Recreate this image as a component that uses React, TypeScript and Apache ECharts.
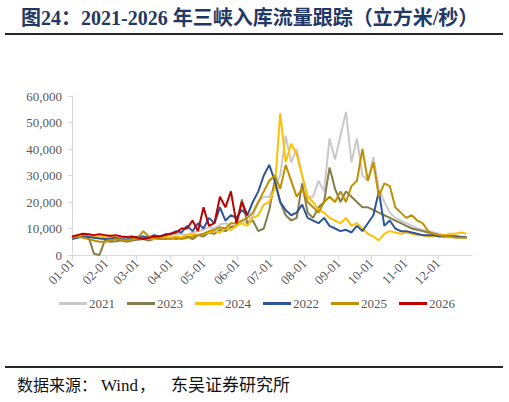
import React, { useEffect, useRef } from "react";
import * as echarts from "echarts";

// Day-of-year sampling step for every series (days 0, 5, 10, ...)
const STEP_DAYS = 5;

const MONTH_LABELS = ["01-01", "02-01", "03-01", "04-01", "05-01", "06-01", "07-01", "08-01", "09-01", "10-01", "11-01", "12-01"];
const MONTH_START_DAYS = [0, 31, 59, 90, 120, 151, 181, 212, 243, 273, 304, 334];
const Y_TICKS = [0, 10000, 20000, 30000, 40000, 50000, 60000];

const FLOW_2021 = [
  6800, 7200, 7500, 7000, 6800, 6500,
  6200, 6000, 6300, 6500, 6200, 6000,
  6300, 6500, 6800, 7000, 6800, 7200,
  7500, 7800, 8000, 7500, 8500, 9000,
  9500, 10500, 10000, 11500, 12000, 11000,
  11000, 13000, 12000, 15000, 20000, 22000,
  22000, 26000, 30000, 45000, 35000, 40000,
  30000, 22000, 22000, 28000, 24000, 44000,
  36000, 45000, 54000, 35000, 44000, 30000,
  28000, 37000, 25000, 20000, 16000, 14000,
  13000, 12000, 11000, 10000, 9500, 9000,
  8500, 8000, 7500, 7200, 7000, 7000, 6800,
];

const FLOW_2022 = [
  6000, 6500, 7000, 6800, 6500, 6200,
  6000, 6200, 6500, 6000, 5800, 6500,
  6800, 7000, 6500, 7500, 7000, 7800,
  8000, 9000, 8500, 11000, 9000, 12000,
  10000, 14000, 12000, 18000, 13000, 15000,
  14000, 17000, 15000, 20000, 24000, 30000,
  34000, 28000, 20000, 17000, 15000, 16000,
  19000, 14000, 13000, 12000, 14000, 11000,
  10000, 9000, 9500, 8500, 11000, 9000,
  12000, 15000, 24000, 11000, 13000, 10000,
  9000, 9000, 8500, 8000, 7500, 7500,
  7500, 7000, 7000, 7200, 7000, 6800, 6800,
];

const FLOW_2023 = [
  6500, 7000, 7500, 7000, 500, 0,
  5500, 5000, 5200, 5500, 5000, 5500,
  5800, 6000, 5500, 6000, 6200, 6500,
  6500, 6000, 6500, 7000, 6000, 7500,
  7000, 8500, 8000, 9500, 9000, 10500,
  11000, 21000, 12000, 13000, 9000, 10000,
  17000, 28000, 20000, 15000, 13000, 14000,
  27000, 16000, 14000, 18000, 20000, 33000,
  25000, 20000, 24000, 22000, 20000, 18000,
  18000, 17000, 16000, 15000, 14000, 13000,
  12000, 11000, 10000, 9500, 9000, 8500,
  8000, 7500, 7500, 7000, 7000, 6800, 6500,
];

const FLOW_2024 = [
  7000, 7500, 7200, 8000, 7000, 6500,
  7000, 7500, 6500, 6000, 5500, 6000,
  6500, 7000, 6500, 6000, 6500, 7000,
  6500, 7000, 6800, 7500, 8000, 7500,
  8000, 8500, 9000, 8500, 10000, 9500,
  11000, 12000, 11000, 14000, 15000, 19000,
  20000, 25000, 53500, 35000, 42000, 38000,
  30000, 22000, 20000, 17000, 16000, 14000,
  13000, 12000, 14000, 11000, 12000, 10000,
  8000, 7000, 5500, 8000, 9000, 8500,
  8000, 8500, 8000, 7500, 7500, 7000,
  7000, 7500, 7500, 8000, 8000, 8500, 8000,
];

const FLOW_2025 = [
  6500, 7000, 6500, 6000, 5500, 5000,
  5000, 5500, 6000, 5800, 5500, 6000,
  6500, 9000, 7000, 6500, 6000, 6000,
  6000, 6500, 6000, 6500, 7000, 7500,
  8000, 9000, 9500, 10500, 10000, 12000,
  12000, 13000, 14000, 16000, 20000, 24000,
  28000, 30000, 25000, 34000, 28000, 22000,
  25000, 20000, 18000, 16000, 20000, 22000,
  20000, 24000, 20000, 26000, 28000, 40000,
  28000, 35000, 22000, 27000, 26000, 18000,
  16000, 14000, 15000, 13000, 12000, 9000,
  8000, 7500, 7000, 7000, 6500, 6500, 6500,
];

const FLOW_2026 = [
  7000, 7500, 8000, 7800, 7500, 7800,
  7500, 7200, 7500, 7000, 6800, 7000,
  6500, 6000, 6500, 7000, 7000, 7500,
  8000, 8500, 10000, 10000, 13000, 9000,
  18000, 11000, 12000, 22000, 18000, 24000,
  12000, 20000, 15000,
];

const SERIES_DEFS = [
  { name: "2021", color: "#C9C9C9", values: FLOW_2021 },
  { name: "2023", color: "#857D4B", values: FLOW_2023 },
  { name: "2024", color: "#FFC000", values: FLOW_2024 },
  { name: "2022", color: "#2F5597", values: FLOW_2022 },
  { name: "2025", color: "#BF9000", values: FLOW_2025 },
  { name: "2026", color: "#C00000", values: FLOW_2026 },
];

const SERIF = "'Liberation Serif', 'Times New Roman', 'Noto Sans CJK SC', serif";

export default function App() {
  const ref = useRef<HTMLDivElement>(null);

  useEffect(() => {
    document.body.style.margin = "0";
    if (!ref.current) return;
    const chart = echarts.init(ref.current, undefined, { renderer: "svg" });

    const option: any = {
      animation: false,
      backgroundColor: "#ffffff",
      textStyle: { fontFamily: SERIF },
      title: {
        text: "图24：2021-2026 年三峡入库流量跟踪（立方米/秒）",
        left: 16,
        top: 3,
        textStyle: {
          fontFamily: SERIF,
          fontSize: 20,
          fontWeight: "bold",
          color: "#1F3864",
        },
      },
      graphic: [
        { type: "rect", shape: { x: 5, y: 33, width: 498, height: 2 }, style: { fill: "#262626" } },
        { type: "rect", shape: { x: 5, y: 366, width: 498, height: 2 }, style: { fill: "#262626" } },
        {
          type: "text",
          left: 17,
          top: 377,
          style: {
            text: "{a|数据来源：}{b|Wind}{a|，}{c|东吴证券研究所}",
            rich: {
              a: { fontFamily: SERIF, fontSize: 16, fill: "#111111" },
              b: { fontFamily: SERIF, fontSize: 17, fill: "#111111", padding: [0, 1, 0, 4] },
              c: { fontFamily: SERIF, fontSize: 17, fill: "#111111", padding: [0, 0, 0, 16] },
            },
          },
        },
      ],
      legend: {
        left: 54,
        top: 292,
        icon: "rect",
        itemWidth: 28,
        itemHeight: 3,
        itemGap: 12,
        textStyle: { fontFamily: SERIF, fontSize: 13, color: "#595959", padding: [0, 0, 0, -3] },
        data: SERIES_DEFS.map((s) => s.name),
      },
      grid: { left: 72, right: 37, top: 96, bottom: 147, containLabel: false },
      xAxis: {
        type: "value",
        min: 0,
        max: 365,
        axisLine: { show: true, lineStyle: { color: "#D9D9D9", width: 1 } },
        axisTick: {
          show: true,
          length: 5,
          lineStyle: { color: "#D9D9D9" },
          customValues: MONTH_START_DAYS,
        },
        axisLabel: {
          customValues: MONTH_START_DAYS,
          rotate: 45,
          margin: 6,
          fontFamily: SERIF,
          fontSize: 13,
          color: "#595959",
          formatter: (v: number) => {
            const idx = MONTH_START_DAYS.indexOf(Math.round(v));
            return idx >= 0 ? MONTH_LABELS[idx] : "";
          },
        },
        splitLine: { show: false },
      },
      yAxis: {
        type: "value",
        min: Y_TICKS[0],
        max: Y_TICKS[Y_TICKS.length - 1],
        interval: Y_TICKS[1] - Y_TICKS[0],
        axisLine: { show: true, lineStyle: { color: "#D9D9D9", width: 1 } },
        axisTick: { show: true, length: 4, lineStyle: { color: "#D9D9D9" } },
        axisLabel: {
          margin: 10,
          fontFamily: SERIF,
          fontSize: 13,
          color: "#595959",
          formatter: (v: number) => v.toLocaleString("en-US"),
        },
        splitLine: { show: false },
      },
      series: SERIES_DEFS.map((s, k) => ({
        name: s.name,
        type: "line",
        showSymbol: false,
        symbol: "none",
        smooth: false,
        z: 2 + k,
        color: s.color,
        lineStyle: { color: s.color, width: 2 },
        data: s.values.map((v, i) => [i * STEP_DAYS, v]),
      })),
    };

    chart.setOption(option);
    return () => chart.dispose();
  }, []);

  return <div ref={ref} style={{ width: 509, height: 402 }} />;
}
